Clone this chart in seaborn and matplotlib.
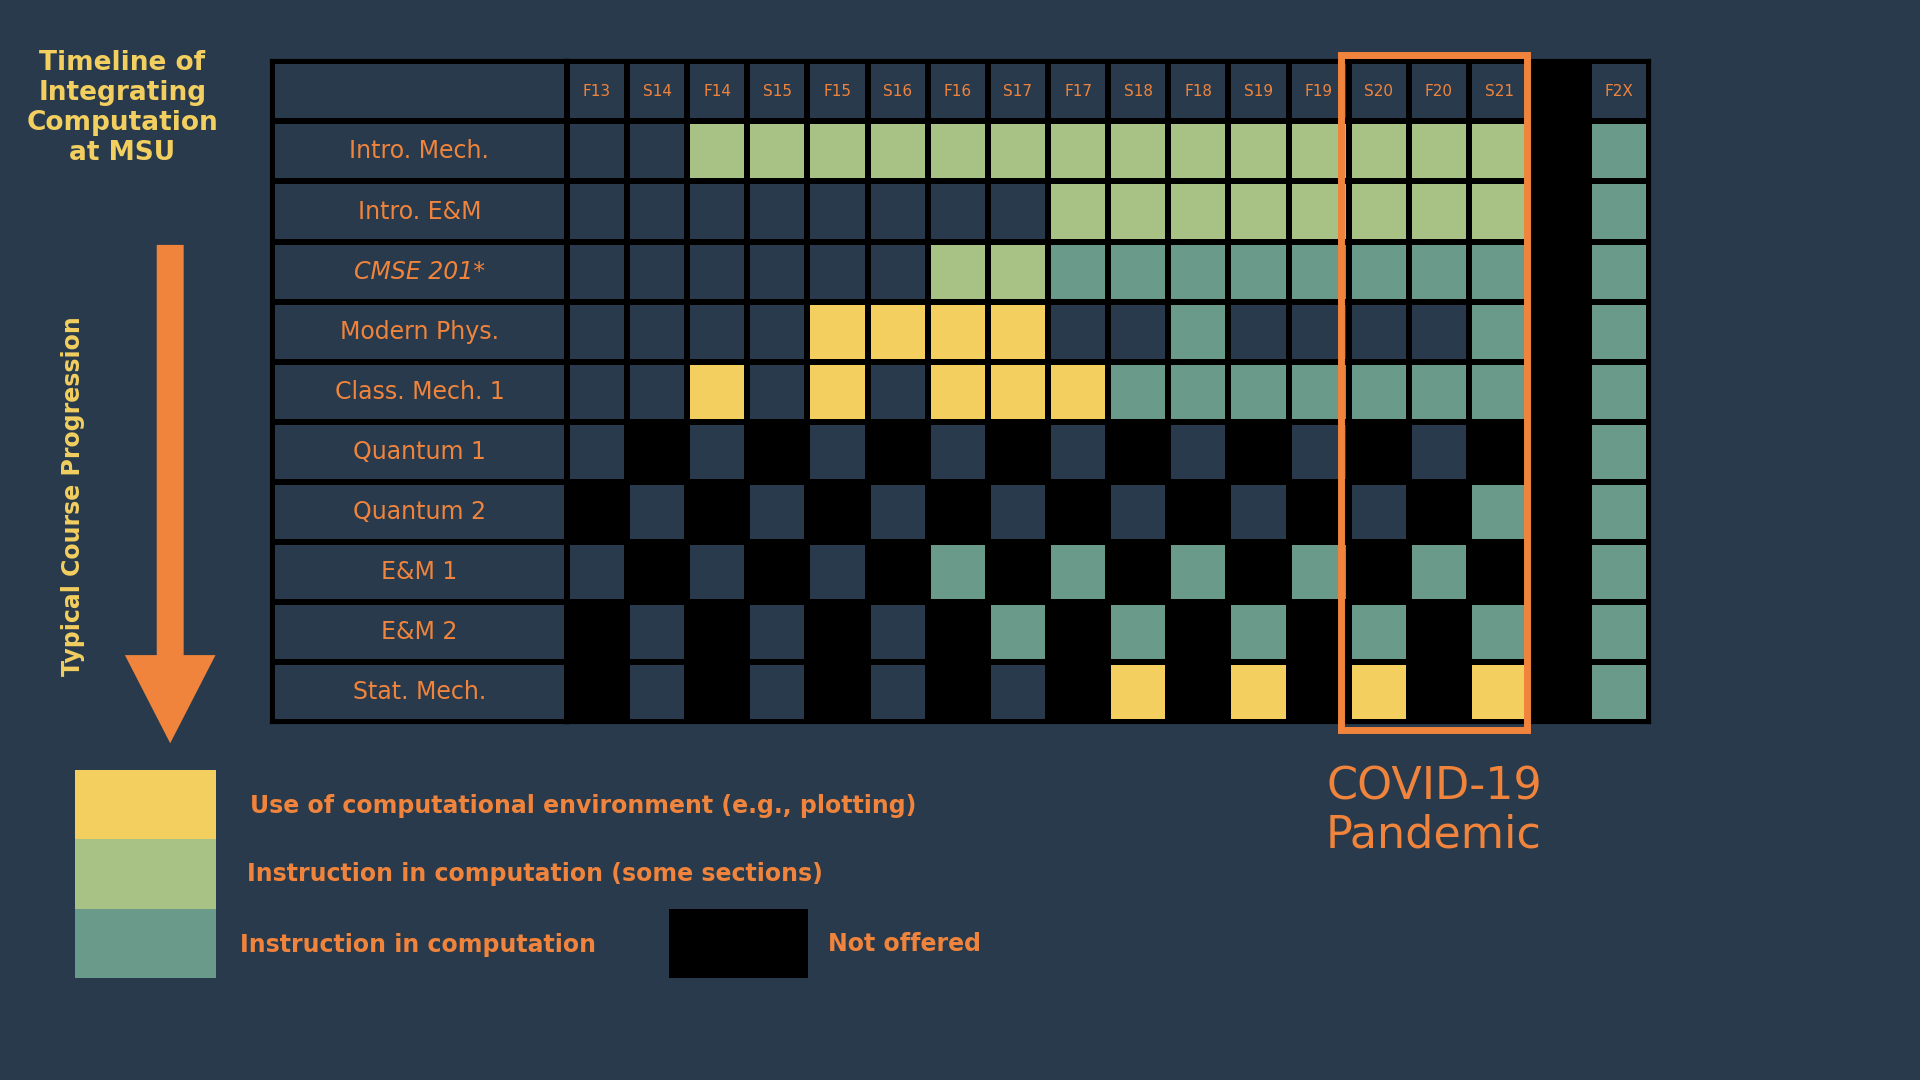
import numpy as np
import matplotlib
matplotlib.use('Agg')
import matplotlib.pyplot as plt
from matplotlib.colors import ListedColormap
from matplotlib.patches import Rectangle, FancyArrow
import seaborn as sns

BG = '#283a4b'
ORANGE = '#f0843c'
YELLOW = '#f3cf60'
LGREEN = '#a8c285'
TEAL = '#6a9a8a'

semesters = ['F13', 'S14', 'F14', 'S15', 'F15', 'S16', 'F16', 'S17', 'F17',
             'S18', 'F18', 'S19', 'F19', 'S20', 'F20', 'S21', '', 'F2X']
courses = ['Intro. Mech.', 'Intro. E&M', 'CMSE 201*', 'Modern Phys.', 'Class. Mech. 1',
           'Quantum 1', 'Quantum 2', 'E&M 1', 'E&M 2', 'Stat. Mech.']
# 0 offered/no computation, 1 env use, 2 some sections, 3 instruction, 4 not offered
status = [
    [0, 0, 2, 2, 2, 2, 2, 2, 2, 2, 2, 2, 2, 2, 2, 2],
    [0, 0, 0, 0, 0, 0, 0, 0, 2, 2, 2, 2, 2, 2, 2, 2],
    [0, 0, 0, 0, 0, 0, 2, 2, 3, 3, 3, 3, 3, 3, 3, 3],
    [0, 0, 0, 0, 1, 1, 1, 1, 0, 0, 3, 0, 0, 0, 0, 3],
    [0, 0, 1, 0, 1, 0, 1, 1, 1, 3, 3, 3, 3, 3, 3, 3],
    [0, 4, 0, 4, 0, 4, 0, 4, 0, 4, 0, 4, 0, 4, 0, 4],
    [4, 0, 4, 0, 4, 0, 4, 0, 4, 0, 4, 0, 4, 0, 4, 3],
    [0, 4, 0, 4, 0, 4, 3, 4, 3, 4, 3, 4, 3, 4, 3, 4],
    [4, 0, 4, 0, 4, 0, 4, 3, 4, 3, 4, 3, 4, 3, 4, 3],
    [4, 0, 4, 0, 4, 0, 4, 0, 4, 1, 4, 1, 4, 1, 4, 1],
]
future = 3  # F2X column

cmap = ListedColormap([BG, YELLOW, LGREEN, TEAL, 'black'])

grid = np.zeros((11, 18), dtype=int)
grid[0, 16] = 4
for i, row in enumerate(status):
    grid[i + 1, :16] = row
    grid[i + 1, 16] = 4
    grid[i + 1, 17] = future

W, H = 1568, 882
fig = plt.figure(figsize=(19.2, 10.8), dpi=100, facecolor=BG)


def pax(x0, y0, x1, y1):
    return fig.add_axes([x0 / W, 1 - y1 / H, (x1 - x0) / W, (y1 - y0) / H])


lw = 3
ax_lab = pax(222, 50, 463, 590)
sns.heatmap(np.zeros((11, 1)), ax=ax_lab, cmap=ListedColormap([BG]), cbar=False,
            linewidths=lw, linecolor='black', xticklabels=False, yticklabels=False)
for i, c in enumerate(courses):
    ax_lab.text(0.5, i + 1.5, c, ha='center', va='center', color=ORANGE,
                fontsize=17, style='italic' if c.startswith('CMSE') else 'normal')

ax_g = pax(463, 50, 1347, 590)
sns.heatmap(grid, ax=ax_g, cmap=cmap, vmin=-0.5, vmax=4.5, cbar=False,
            linewidths=lw, linecolor='black', xticklabels=False, yticklabels=False)
for j, s in enumerate(semesters):
    ax_g.text(j + 0.5, 0.5, s, ha='center', va='center', color=ORANGE, fontsize=11)
for a in (ax_lab, ax_g):
    for sp in a.spines.values():
        sp.set_visible(True)
        sp.set_color('black')
        sp.set_linewidth(3)

ov = fig.add_axes([0, 0, 1, 1], facecolor='none')
ov.set_xlim(0, W)
ov.set_ylim(H, 0)
ov.axis('off')

ov.add_patch(Rectangle((1095, 45), 152, 551, fill=False, edgecolor=ORANGE, linewidth=5))
ov.text(1171, 662, 'COVID-19\nPandemic', ha='center', va='center', color=ORANGE,
        fontsize=32, linespacing=1.15)

ov.text(100, 88, 'Timeline of\nIntegrating\nComputation\nat MSU', ha='center', va='center',
        color=YELLOW, fontsize=19, fontweight='bold', linespacing=1.2)
ov.add_patch(FancyArrow(139, 200, 0, 407, width=22, head_width=74, head_length=72,
                        length_includes_head=True, color=ORANGE, lw=0))
ov.text(60, 405, 'Typical Course Progression', rotation=90, ha='center', va='center',
        color=YELLOW, fontsize=17, fontweight='bold')

for y0, col in [(629, YELLOW), (685, LGREEN), (742, TEAL)]:
    ov.add_patch(Rectangle((61, y0), 115, 57, color=col, lw=0))
ov.add_patch(Rectangle((546, 742), 114, 57, color='black', lw=0))
legend_txt = [(204, 658, 'Use of computational environment (e.g., plotting)'),
              (202, 714, 'Instruction in computation (some sections)'),
              (196, 772, 'Instruction in computation'),
              (676, 771, 'Not offered')]
for x, y, t in legend_txt:
    ov.text(x, y, t, ha='left', va='center', color=ORANGE, fontsize=17, fontweight='bold')

fig.savefig('out.png', dpi=100, facecolor=BG)
